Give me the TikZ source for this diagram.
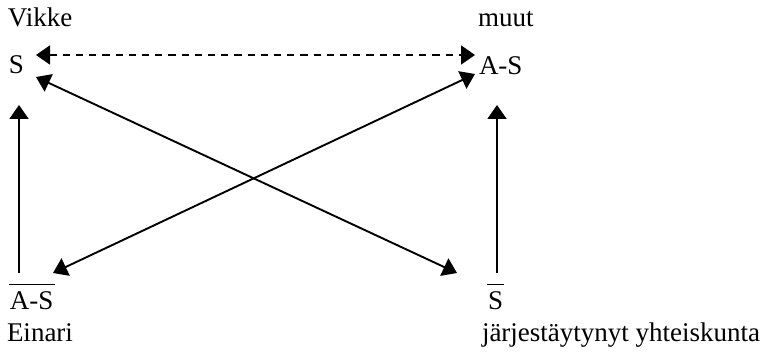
\documentclass[tikz,border=0pt]{standalone}
\usepackage{fontspec}
\setmainfont{Liberation Serif}
\usetikzlibrary{arrows.meta}
\newcommand\ovl[1]{\vbox{\hrule height 0.55pt\kern 3.2pt\hbox{\kern0.5pt#1\kern0.5pt}}}
\tikzset{
  lbl/.style={anchor=base west, inner sep=0pt, outer sep=0pt, font=\fontsize{13.5}{16}\selectfont},
  conn/.style={line width=0.95pt, {Triangle[length=7pt,width=9.5pt]}-{Triangle[length=7pt,width=9.5pt]}},
  upconn/.style={line width=0.95pt, -{Triangle[length=7pt,width=9.5pt]}},
  dashconn/.style={conn, dash pattern=on 3.6pt off 3pt}
}
\begin{document}
\begin{tikzpicture}[x=0.5pt,y=-0.5pt]
\useasboundingbox (0,0) rectangle (767,358);
% labels
\node[lbl] (vikke) at (8,27) {Vikke};
\node[lbl] (muut) at (478,27) {muut};
\node[lbl] (S) at (9,74) {S};
\node[lbl] (AS) at (479,75) {A-S};
\node[lbl] (ASbar) at (9,309) {\ovl{A-S}};
\node[lbl] (Sbar) at (487,309) {\ovl{S}};
\node[lbl] (einari) at (7,342) {Einari};
\node[lbl] (jy) at (482,342) {järjestäytynyt yhteiskunta};
% connector end points
\coordinate (dL) at (36,55);
\coordinate (dR) at (475,55);
\coordinate (d1a) at (36,77);
\coordinate (d1b) at (457,273);
\coordinate (d2a) at (53,273);
\coordinate (d2b) at (475,74);
\coordinate (vLb) at (19,273);
\coordinate (vLt) at (19,105);
\coordinate (vRb) at (497,273);
\coordinate (vRt) at (497,105);
% connectors
\draw[dashconn] (dL) -- (dR);
\draw[conn] (d1a) -- (d1b);
\draw[conn] (d2a) -- (d2b);
\draw[upconn] (vLb) -- (vLt);
\draw[upconn] (vRb) -- (vRt);
\end{tikzpicture}
\end{document}
